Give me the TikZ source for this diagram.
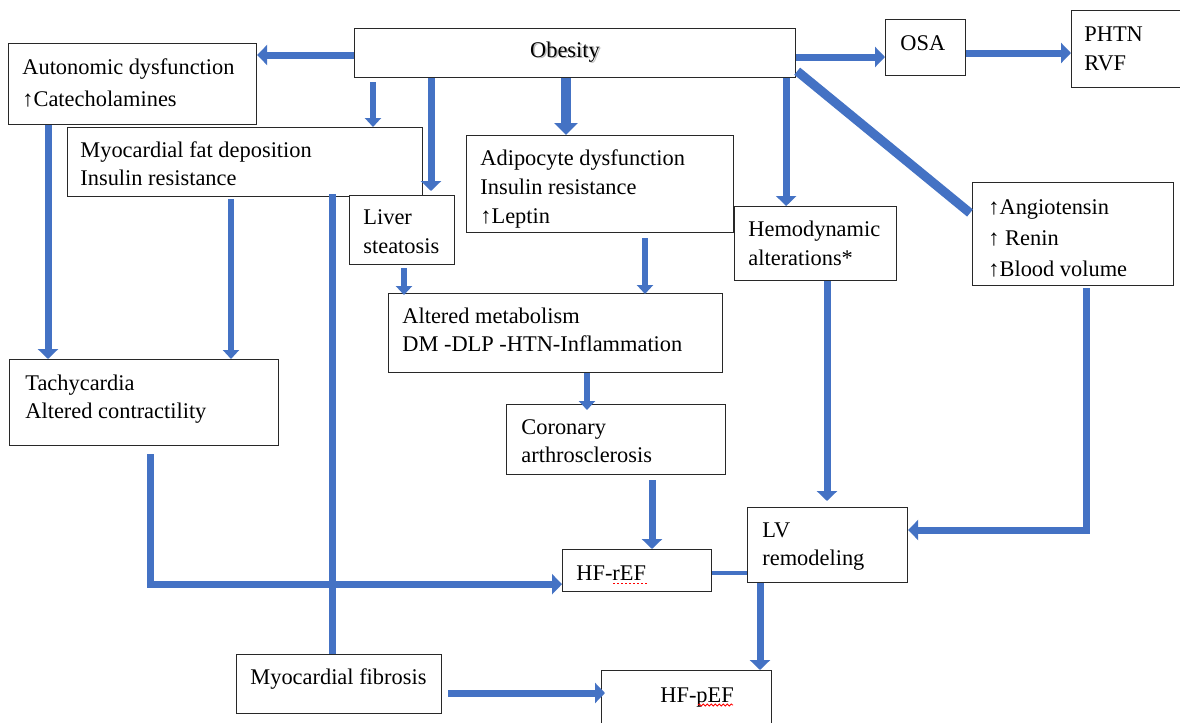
\documentclass[tikz,border=0pt]{standalone}
\usepackage{fontspec}
\setmainfont{Liberation Serif}
\usetikzlibrary{arrows.meta,calc,decorations.pathmorphing}
\definecolor{ablue}{RGB}{68,114,196}
\definecolor{boxc}{RGB}{40,40,40}
\newcommand\mlines[2]{{\fontsize{11.2}{#1}\selectfont\begin{tabular}[t]{@{}l@{}}#2\end{tabular}}}
\newcommand\bx[5]{\node[box, minimum width={(#4-#2)*0.5pt}, minimum height={(#5-#3)*0.5pt}] (#1) at (#2,#3) {};}
\tikzset{
  box/.style={draw=boxc, line width=0.6pt, fill=white, inner sep=0pt, anchor=north west},
  txt/.style={anchor=base west, inner sep=0pt, font=\fontsize{11.2}{14}\selectfont},
  conn/.style={draw=ablue, line width=3.5pt},
  arr/.style={conn, -{Triangle[width=10pt,length=5pt]}},
  smallarr/.style={draw=ablue, line width=3pt, -{Triangle[width=8pt,length=4.5pt]}},
  bigarr/.style={draw=ablue, line width=4.8pt, -{Triangle[width=11.5pt,length=6pt]}},
  squig/.style={draw=red, line width=0.4pt, decorate, decoration={snake, amplitude=0.5pt, segment length=2pt}}
}
\begin{document}
\begin{tikzpicture}[x=0.5pt,y=-0.5pt]
\useasboundingbox (0,0) rectangle (1180,723);
\clip (0,0) rectangle (1180,723);
\fill[white] (0,0) rectangle (1180,723);
% boxes
\bx{obesity}{354}{28}{795}{77}
\bx{auto}{8}{43}{256}{124}
\bx{osa}{885}{19}{965}{75}
\bx{phtn}{1071}{10}{1195}{87}
\bx{myofat}{67}{127}{422}{196}
\bx{liver}{349}{195}{454}{264}
\bx{adipo}{466}{135}{733}{232}
\bx{hemo}{734}{206}{896}{280}
\bx{angio}{972}{182}{1173}{285}
\bx{altmet}{388}{293}{722}{372}
\bx{tachy}{9}{359}{278}{445}
\bx{coronary}{506}{404}{725}{474}
\bx{lv}{747}{507}{907}{582}
\bx{hfref}{562}{549}{711}{591}
\bx{fibrosis}{236}{654}{441}{713}
\bx{hfpef}{601}{670}{771}{740}
% texts
\node[anchor=base, inner sep=0pt, font=\fontsize{11.2}{14}\selectfont, text=black!45, opacity=0.6] (tobesityshadow) at (566.5,58.5) {Obesity};
\node[anchor=base, inner sep=0pt, font=\fontsize{11.2}{14}\selectfont] (tobesity) at (565,57) {Obesity};
\node[txt] (tauto) at (22,74) {\mlines{16}{Autonomic dysfunction\\↑Catecholamines}};
\node[txt] (tosa) at (900,50) {OSA};
\node[txt] (tphtn) at (1084,41) {\mlines{14.5}{PHTN\\RVF}};
\node[txt] (tmyofat) at (80,157) {\mlines{14}{Myocardial fat deposition\\Insulin resistance}};
\node[txt] (tliver) at (363,224) {\mlines{14.5}{Liver\\steatosis}};
\node[txt] (tadipo) at (480,165) {\mlines{14.5}{Adipocyte dysfunction\\Insulin resistance\\↑Leptin}};
\node[txt] (themo) at (748,236) {\mlines{14.5}{Hemodynamic\\alterations*}};
\node[txt] (tangio) at (988,214) {\mlines{15.7}{↑Angiotensin\\↑ Renin\\↑Blood volume}};
\node[txt] (taltmet) at (402,323) {\mlines{14}{Altered metabolism\\DM -DLP -HTN-Inflammation}};
\node[txt] (ttachy) at (25,390) {\mlines{14}{Tachycardia\\Altered contractility}};
\node[txt] (tcoronary) at (521,434) {\mlines{14}{Coronary\\arthrosclerosis}};
\node[txt] (tlv) at (762,537) {\mlines{14}{LV\\remodeling}};
\node[txt] (thfref) at (576,580) {HF-rEF};
\node[txt] (tfibrosis) at (250,684) {Myocardial fibrosis};
\node[txt] (thfpef) at (660,702) {HF-pEF};
% spell-check marks
\draw[red, line width=0.5pt, dash pattern=on 1pt off 1pt] ($(thfref.base west)+(37,3)$) -- ($(thfref.base west)+(71,3)$);
\draw[squig] ($(thfpef.base west)+(38,3)$) -- ($(thfpef.base west)+(73,3)$);
% connectors
\draw[arr] ($(obesity.north west)+(0,27)$) coordinate (a) -- (a -| auto.east);
\draw[smallarr] ($(obesity.south west)+(19,4)$) coordinate (a) -- (a |- myofat.north);
\draw[arr] ($(obesity.south west)+(77,0)$) coordinate (a) -- ($(a |- liver.north)+(0,-4)$);
\draw[bigarr] ($(obesity.south west)+(212,0)$) coordinate (a) -- (a |- adipo.north);
\draw[arr] ($(obesity.south east)+(-10,0)$) coordinate (a) -- (a |- hemo.north);
\draw[arr] ($(obesity.north east)+(0,29)$) coordinate (a) -- (a -| osa.west);
\draw[arr] ($(osa.north east)+(0,34)$) coordinate (a) -- (a -| phtn.west);
\draw[draw=ablue, line width=4.6pt] ($(obesity.south east)+(1,-7)$) -- ($(angio.north west)+(-2,31)$);
\draw[arr] ($(auto.south west)+(40,0)$) coordinate (a) -- (a |- tachy.north);
\draw[smallarr] ($(myofat.south west)+(164,2)$) coordinate (a) -- (a |- tachy.north);
\draw[conn] ($(myofat.south west)+(265,-3)$) coordinate (a) -- (a |- fibrosis.north);
\draw[arr] ($(tachy.south west)+(141,8)$) coordinate (a) |- ($(hfref.south west)+(0,-8)$);
\draw[smallarr] ($(liver.south west)+(55,3)$) coordinate (a) -- ($(a |- altmet.north)+(0,2)$);
\draw[smallarr] ($(adipo.south west)+(179,5)$) coordinate (a) -- ($(a |- altmet.north)+(0,1)$);
\draw[smallarr] ($(altmet.south west)+(199,0)$) coordinate (a) -- ($(a |- coronary.north)+(0,6)$);
\draw[arr] ($(coronary.south west)+(146,5)$) coordinate (a) -- (a |- hfref.north);
\draw[arr] ($(hemo.south west)+(93,0)$) coordinate (a) -- ($(a |- lv.north)+(0,-6)$);
\draw[arr] ($(angio.south west)+(114,2)$) coordinate (a) |- ($(lv.north east)+(0,23)$);
\draw[draw=ablue, line width=2.3pt] ($(hfref.north east)+(0,24)$) coordinate (a) -- (a -| lv.west);
\draw[arr] ($(lv.south west)+(13,0)$) coordinate (a) -- (a |- hfpef.north);
\draw[arr] ($(fibrosis.north east)+(6,39)$) coordinate (a) -- ($(a -| hfpef.west)+(4,0)$);
\end{tikzpicture}
\end{document}
